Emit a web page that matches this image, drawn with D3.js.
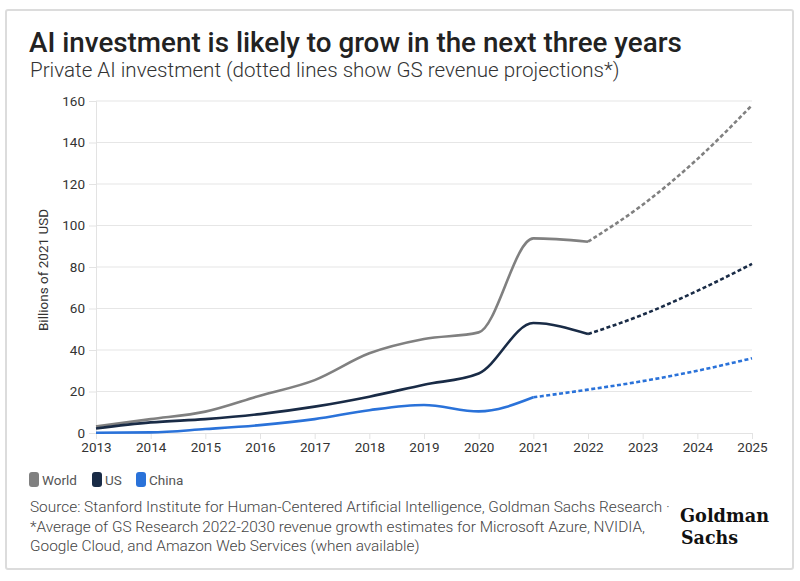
<!DOCTYPE html>
<html><head><meta charset="utf-8">
<script src="https://cdn.jsdelivr.net/npm/d3@7"></script>
<style>
body{margin:0;background:#fff;}
svg{font-family:Roboto,"Noto Sans",sans-serif;}
</style></head>
<body><svg id="c" width="800" height="581"></svg>
<script>
const years = [2013,2014,2015,2016,2017,2018,2019,2020,2021,2022,2023,2024,2025];
const worldActual = [3.2,6.7,10.3,18,25.5,38.4,45.3,48.5,93.8,92.2];
const worldProj = [92.2,110,132,158];
const usActual = [2.2,5.1,6.7,9.1,12.7,17.5,23.3,28.7,53,47.7];
const usProj = [47.7,57,68.5,81.5];
const chinaActual = [0.1,0.3,1.9,3.8,6.7,11,13.5,10.4,17.2];
const chinaProj = [17.2,20.9,25,30,36];
const yTicks = [0,20,40,60,80,100,120,140,160];
const seriesNames = ["World","US","China"];
const seriesColors = ["#808080","#192b46","#2a72d9"];

const svg = d3.select("#c");
svg.append("rect").attr("x",6).attr("y",10).attr("width",787).attr("height",559)
  .attr("fill","#fff").attr("stroke","#dcdcdc").attr("stroke-width",2).attr("rx",2);

svg.append("text").attr("x",29).attr("y",52).attr("font-size",27.8).attr("font-weight",500)
  .attr("fill","#222").text("AI investment is likely to grow in the next three years");
svg.append("text").attr("x",30).attr("y",77).attr("font-size",20.6).attr("font-weight",300)
  .attr("fill","#333").text("Private AI investment (dotted lines show GS revenue projections*)");

const x = d3.scaleLinear().domain([2013,2025]).range([96,752]);
const y = d3.scaleLinear().domain([0,160]).range([433,101]);

// grid
svg.append("g").selectAll("line").data(yTicks.slice(1)).join("line")
  .attr("x1",96).attr("x2",752).attr("y1",d=>y(d)).attr("y2",d=>y(d))
  .attr("stroke","#e6e6e6").attr("stroke-width",1.2);

const gy = svg.append("g").attr("transform","translate(96,0)")
  .call(d3.axisLeft(y).tickValues(yTicks).tickSize(7).tickPadding(4));
gy.select(".domain").attr("stroke","#e3e3e3");
gy.selectAll(".tick line").attr("stroke","#e3e3e3");
gy.selectAll("text").attr("font-size",13.5).attr("fill","#333").style("font-family","Roboto,sans-serif");

const gx = svg.append("g").attr("transform","translate(0,433)")
  .call(d3.axisBottom(x).tickValues(years).tickFormat(d3.format("d")).tickSize(6).tickPadding(3));
gx.select(".domain").attr("stroke","#e3e3e3");
gx.selectAll(".tick line").attr("stroke","#e3e3e3");
gx.selectAll("text").attr("font-size",13.5).attr("fill","#333").style("font-family","Roboto,sans-serif");

svg.append("text").attr("transform","translate(48,270) rotate(-90)").attr("text-anchor","middle")
  .attr("font-size",13.5).attr("fill","#333").text("Billions of 2021 USD");

const line = d3.line().x(d=>x(d[0])).y(d=>y(d[1])).curve(d3.curveMonotoneX);
function pts(vals, startYear){ return vals.map((v,i)=>[startYear+i,v]); }

const actual = [worldActual, usActual, chinaActual];
const proj = [[worldProj,2022],[usProj,2022],[chinaProj,2021]];
actual.forEach((vals,i)=>{
  svg.append("path").attr("d",line(pts(vals,2013))).attr("fill","none")
    .attr("stroke",seriesColors[i]).attr("stroke-width",2.6).attr("stroke-linejoin","round");
  svg.append("path").attr("d",line(pts(proj[i][0],proj[i][1]))).attr("fill","none")
    .attr("stroke",seriesColors[i]).attr("stroke-width",2.6).attr("stroke-dasharray","4,2.5");
});

// legend
const legX = [29,92,136];
seriesNames.forEach((n,i)=>{
  svg.append("rect").attr("x",legX[i]).attr("y",472).attr("width",10).attr("height",15).attr("rx",3)
    .attr("fill",seriesColors[i]);
  svg.append("text").attr("x",legX[i]+13).attr("y",484.5).attr("font-size",13.5).attr("fill","#555").text(n);
});

const src = ["Source: Stanford Institute for Human-Centered Artificial Intelligence, Goldman Sachs Research ·",
 "*Average of GS Research 2022-2030 revenue growth estimates for Microsoft Azure, NVIDIA,",
 "Google Cloud, and Amazon Web Services (when available)"];
src.forEach((s,i)=>svg.append("text").attr("x",30).attr("y",512+i*19.5).attr("font-size",15.4)
  .attr("font-weight",300).attr("fill","#444").text(s));

const logoFont = "'DejaVu Serif Condensed','DejaVu Serif',serif";
svg.append("text").attr("x",680).attr("y",522).attr("font-size",18.5).attr("font-weight",700)
  .style("font-family",logoFont).attr("fill","#111")
  .attr("textLength",89).attr("lengthAdjust","spacingAndGlyphs").text("Goldman");
svg.append("text").attr("x",681).attr("y",543.5).attr("font-size",18.5).attr("font-weight",700)
  .style("font-family",logoFont).attr("fill","#111")
  .attr("textLength",57).attr("lengthAdjust","spacingAndGlyphs").text("Sachs");
</script></body></html>
